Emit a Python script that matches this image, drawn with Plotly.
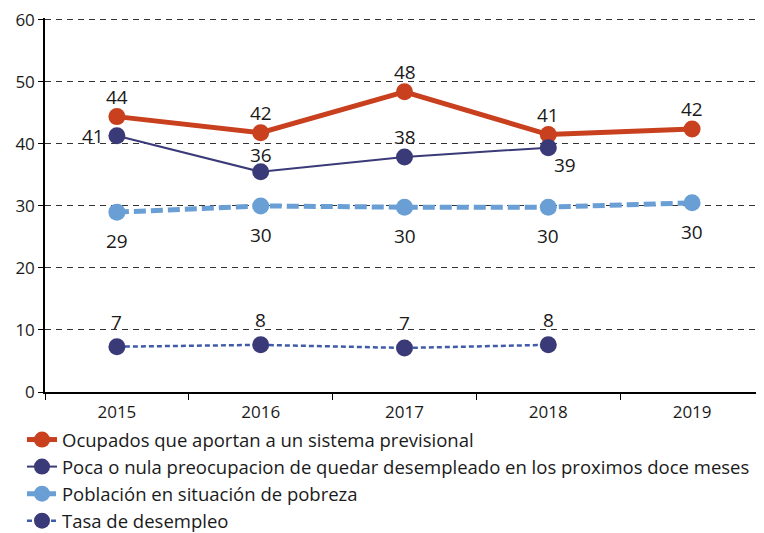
import plotly.graph_objects as go

years = ["2015", "2016", "2017", "2018", "2019"]
ocupados = [44.4, 41.8, 48.4, 41.5, 42.4]
ocupados_lbl = ["44", "42", "48", "41", "42"]
poca = [41.3, 35.5, 37.9, 39.4]
poca_lbl = ["41", "36", "38", "39"]
pobreza = [29.0, 30.0, 29.8, 29.8, 30.5]
pobreza_lbl = ["29", "30", "30", "30", "30"]
desempleo = [7.3, 7.6, 7.1, 7.6]
desempleo_lbl = ["7", "8", "7", "8"]

FONT = "Open Sans"
TXT = dict(family=FONT, size=19, color="#1a1a1a")

fig = go.Figure()
fig.add_trace(go.Scatter(
    x=years, y=ocupados, name="Ocupados que aportan a un sistema previsional",
    mode="lines+markers", line=dict(color="#C8401E", width=5),
    marker=dict(size=17, color="#C8401E")))
fig.add_trace(go.Scatter(
    x=years[:4], y=poca,
    name="Poca o nula preocupacion de quedar desempleado en los proximos doce meses",
    mode="lines+markers", line=dict(color="#3B3A78", width=2),
    marker=dict(size=17, color="#3B3A78")))
fig.add_trace(go.Scatter(
    x=years, y=pobreza, name="Población en situación de pobreza",
    mode="lines+markers", line=dict(color="#6A9FD6", width=5, dash="12px,5px"),
    marker=dict(size=17, color="#6A9FD6")))
fig.add_trace(go.Scatter(
    x=years[:4], y=desempleo, name="Tasa de desempleo",
    mode="lines+markers", line=dict(color="#3F5BAA", width=2.5, dash="5px,3px"),
    marker=dict(size=17, color="#3B3A78")))

def label(ys, texts, xshift, yshift):
    # x given as category index (numeric-looking category names are read as indices)
    for i, (yv, t) in enumerate(zip(ys, texts)):
        fig.add_annotation(x=i, y=yv, xref="x", yref="y", text=t, showarrow=False,
                           font=TXT,
                           xshift=xshift[i] if isinstance(xshift, list) else xshift,
                           yshift=yshift[i] if isinstance(yshift, list) else yshift)

label(ocupados, ocupados_lbl, 0, 20)
label(poca, poca_lbl, [-24, 0, 0, 17], [0, 17, 20, -17])
label(pobreza, pobreza_lbl, 0, -29)
label(desempleo, desempleo_lbl, 0, 25)

# page body has an 8px margin, so the figure is sized/offset to compensate
fig.update_layout(
    width=756, height=525,
    margin=dict(l=37, r=0, t=10, b=141, autoexpand=False),
    plot_bgcolor="white", paper_bgcolor="white",
    font=dict(family=FONT, size=17, color="#1a1a1a"),
    showlegend=True,
    legend=dict(orientation="v", xref="container", yref="container",
                x=0.0185, xanchor="left", y=0.2133, yanchor="top",
                font=dict(family=FONT, size=18.5, color="#1a1a1a"),
                tracegroupgap=0, itemwidth=30, bgcolor="rgba(0,0,0,0)"),
)
fig.update_xaxes(
    type="category", showline=True, linecolor="black", linewidth=1.5,
    ticks="outside", tickson="boundaries", ticklen=6, tickcolor="black",
    ticklabelstandoff=4, ticklabeloverflow="allow",
    showgrid=False, tickfont=dict(family=FONT, size=17), range=[-0.5, 4.5],
    automargin=False)
fig.update_yaxes(
    range=[0, 60.3], tickvals=[0, 10, 20, 30, 40, 50, 60],
    showline=True, linecolor="black", linewidth=1.5,
    ticks="outside", ticklen=5, tickcolor="black", ticklabeloverflow="allow",
    showgrid=True, gridcolor="#333", griddash="6px,5px", gridwidth=1,
    zeroline=False, tickfont=dict(family=FONT, size=17), automargin=False)

fig.write_html("out.html")
